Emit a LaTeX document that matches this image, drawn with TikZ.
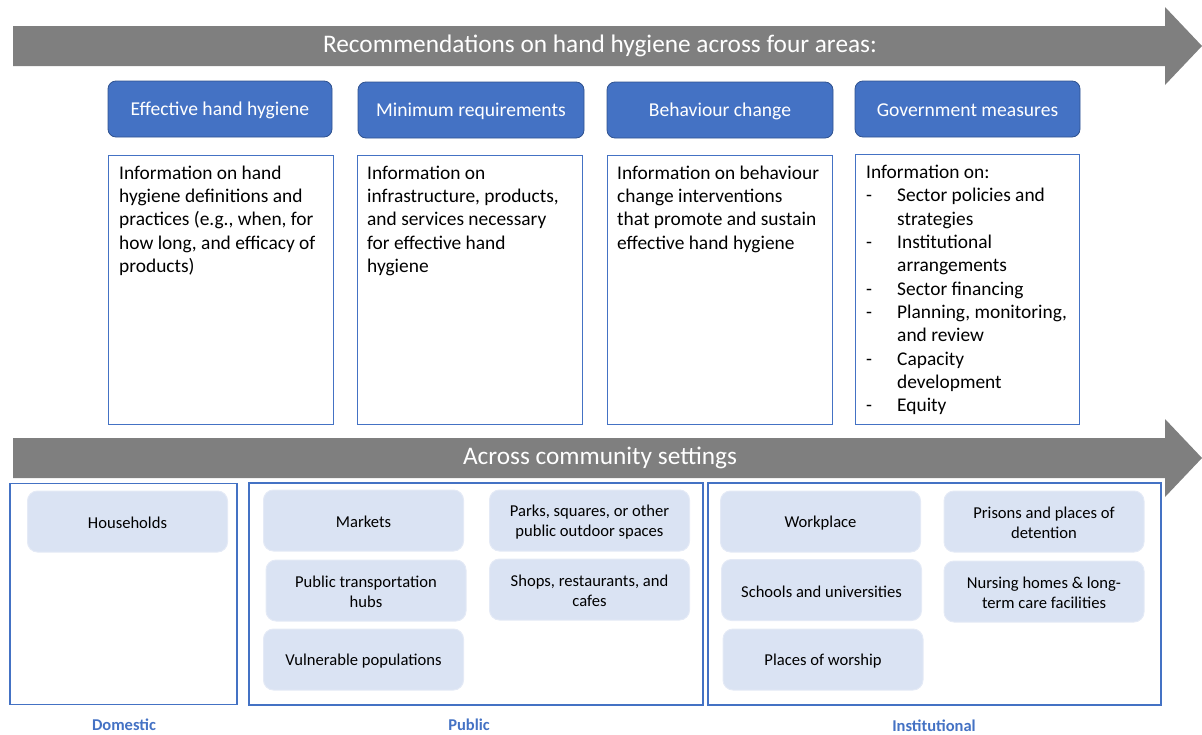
\documentclass[tikz,border=0pt]{standalone}
\usepackage{fontspec}
\setmainfont{Carlito}
\definecolor{arrowgray}{HTML}{7F7F7F}
\definecolor{mainblue}{HTML}{4472C4}
\definecolor{darkblue}{HTML}{2F528F}
\definecolor{lightblue}{HTML}{DAE3F3}
\definecolor{lightedge}{HTML}{E4EAF6}
\begin{document}
\begin{tikzpicture}[x=1pt,y=-1pt,
  bigarrow/.style={fill=arrowgray,draw=none},
  arrowtext/.style={text=white,font=\fontsize{25.3}{30}\selectfont,inner sep=0},
  areabox/.style={draw=darkblue,fill=mainblue,rounded corners=8pt,line width=0.8pt,
     minimum width=224pt,minimum height=56pt,inner sep=0},
  areatext/.style={text=white,font=\fontsize{19.6}{23}\selectfont,inner sep=0},
  infobox/.style={draw=mainblue,line width=1pt,fill=white,minimum width=225pt,minimum height=269pt,inner sep=0},
  infotext/.style={anchor=north west,align=left,inner sep=0,font=\fontsize{19.4}{23.3}\selectfont},
  groupbox/.style={draw=mainblue,line width=1.2pt,minimum height=221pt,inner sep=0},
  settingbox/.style={draw=lightedge,fill=lightblue,rounded corners=10pt,line width=1pt,
     minimum width=200pt,minimum height=61pt,inner sep=0},
  settingtext/.style={inner sep=0,align=center,font=\fontsize{16.6}{20}\selectfont},
  grouplabel/.style={text=mainblue,font=\bfseries\fontsize{16.5}{19}\selectfont,inner sep=0}
]
\useasboundingbox (0,0) rectangle (1202,734);

% top arrow
\fill[bigarrow] (13,26) -- (1165,26) -- (1165,7) -- (1202,46) -- (1165,85) -- (1165,66) -- (13,66) -- cycle;
\node[arrowtext] (toptitle) at (600,46) {Recommendations on hand hygiene across four areas:};

% area headers
\node[areabox] (a1) at (220,109) {};
\node[areabox,minimum width=226pt] (a2) at (471,110) {};
\node[areabox,minimum width=226pt] (a3) at (720,110) {};
\node[areabox,minimum width=225pt] (a4) at (967.5,109) {};
\node[areatext] (a1t) at ([yshift=-1.5pt]a1.center) {Effective hand hygiene};
\node[areatext] (a2t) at ([yshift=-1pt]a2.center) {Minimum requirements};
\node[areatext] (a3t) at ([yshift=-1pt]a3.center) {Behaviour change};
\node[areatext] (a4t) at ([yshift=-1.5pt]a4.center) {Government measures};

% info boxes
\node[infobox] (b1) at (220.5,289.5) {};
\node[infobox] (b2) at (469.5,289.5) {};
\node[infobox] (b3) at (719.5,289.5) {};
\node[infobox,minimum width=224pt,minimum height=270pt] (b4) at (967,289) {};

\node[infotext] (t1) at (119,165.5) {Information on hand\\hygiene definitions and\\practices (e.g., when, for\\how long, and efficacy of\\products)};
\node[infotext] (t2) at (367,165.5) {Information on\\infrastructure, products,\\and services necessary\\for effective hand\\hygiene};
\node[infotext] (t3) at (617,165.5) {Information on behaviour\\change interventions\\that promote and sustain\\effective hand hygiene};
\node[infotext] (t4) at (866,165) {Information on:\\
\makebox[31pt][l]{-}Sector policies and\\
\hspace*{31pt}strategies\\
\makebox[31pt][l]{-}Institutional\\
\hspace*{31pt}arrangements\\
\makebox[31pt][l]{-}Sector financing\\
\makebox[31pt][l]{-}Planning, monitoring,\\
\hspace*{31pt}and review\\
\makebox[31pt][l]{-}Capacity\\
\hspace*{31pt}development\\
\makebox[31pt][l]{-}Equity};

% second arrow
\fill[bigarrow] (13,438) -- (1165,438) -- (1165,419) -- (1202,458) -- (1165,497) -- (1165,478) -- (13,478) -- cycle;
\node[arrowtext] (bottitle) at (600,458) {Across community settings};

% groups
\node[groupbox,minimum width=227pt] (gdom) at (123.5,594) {};
\node[groupbox,minimum width=454pt,minimum height=222pt] (gpub) at (476,594) {};
\node[groupbox,minimum width=453pt,minimum height=222pt] (ginst) at (934.5,594) {};

% settings
\node[settingbox] (s1) at (127.5,521.5) {};
\node[settingbox] (s2) at (363.5,520.5) {};
\node[settingbox] (s3) at (589.5,520.5) {};
\node[settingbox] (s4) at (366,590.5) {};
\node[settingbox] (s5) at (589.5,589.5) {};
\node[settingbox] (s6) at (363.5,659.5) {};
\node[settingbox] (s7) at (820.5,521.5) {};
\node[settingbox] (s8) at (1044,521.5) {};
\node[settingbox] (s9) at (821.5,590) {};
\node[settingbox] (s10) at (1044,591.5) {};
\node[settingbox] (s11) at (823,659.5) {};
\node[settingtext] (s1t) at ([yshift=-1.5pt]s1.center) {Households};
\node[settingtext] (s2t) at ([yshift=-1.5pt]s2.center) {Markets};
\node[settingtext] (s3t) at ([yshift=-2pt]s3.center) {Parks, squares, or other\\public outdoor spaces};
\node[settingtext] (s4t) at ([yshift=-1.5pt]s4.center) {Public transportation\\hubs};
\node[settingtext] (s5t) at ([yshift=-1.5pt]s5.center) {Shops, restaurants, and\\cafes};
\node[settingtext] (s6t) at ([yshift=-1.5pt]s6.center) {Vulnerable populations};
\node[settingtext] (s7t) at ([yshift=-1.5pt]s7.center) {Workplace};
\node[settingtext] (s8t) at ([yshift=-1pt]s8.center) {Prisons and places of\\detention};
\node[settingtext] (s9t) at ([yshift=-1.5pt]s9.center) {Schools and universities};
\node[settingtext] (s10t) at ([yshift=-1pt]s10.center) {Nursing homes \& long-\\term care facilities};
\node[settingtext] (s11t) at ([yshift=-1.5pt]s11.center) {Places of worship};

% labels
\node[grouplabel] (ldom) at (124,725) {Domestic};
\node[grouplabel] (lpub) at (469,725) {Public};
\node[grouplabel] (linst) at (934,726) {Institutional};
\end{tikzpicture}
\end{document}
